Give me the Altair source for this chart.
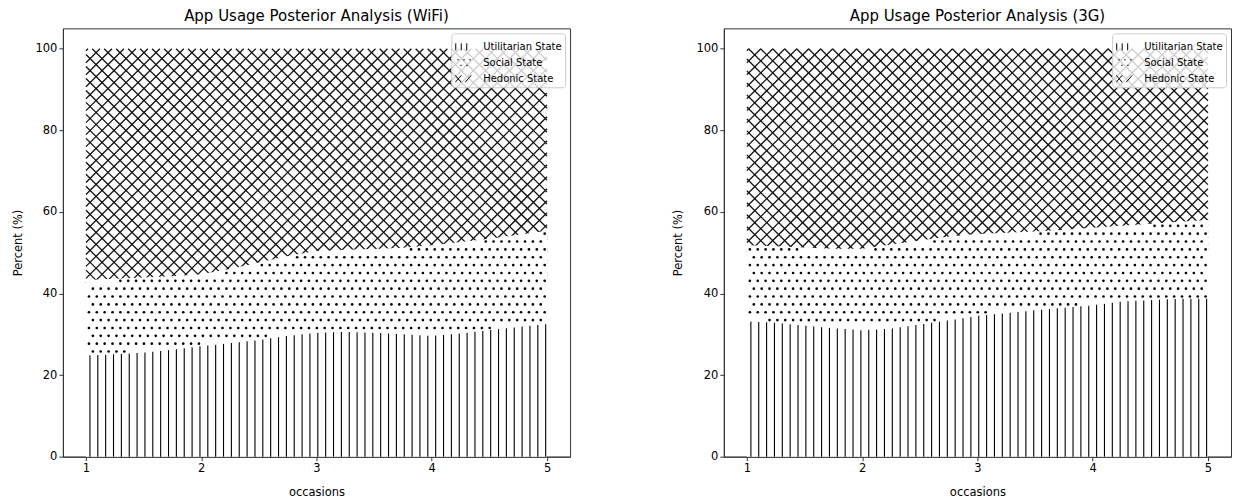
import altair as alt
import numpy as np
import pandas as pd

# ---------------- data ----------------
occasions = [1.0, 1.25, 1.5, 1.75, 2.0, 2.25, 2.5, 2.75, 3.0, 3.25, 3.5, 3.75, 4.0, 4.25, 4.5, 4.75, 5.0]

wifi_utilitarian = [24.8, 25.1, 25.5, 26.2, 27.1, 27.8, 28.6, 29.6, 30.4, 30.6, 30.4, 30.0, 29.6, 30.2, 31.0, 31.8, 32.5]
wifi_social = [18.5, 18.5, 18.4, 18.0, 17.6, 18.2, 19.0, 19.6, 20.0, 20.1, 20.5, 21.2, 22.2, 22.4, 22.4, 22.6, 22.9]
wifi_hedonic = [56.7, 56.4, 56.1, 55.8, 55.3, 54.0, 52.4, 50.8, 49.6, 49.3, 49.1, 48.8, 48.2, 47.4, 46.6, 45.6, 44.6]

g3_utilitarian = [33.2, 32.8, 32.1, 31.5, 31.0, 31.4, 32.4, 33.4, 34.5, 35.2, 35.9, 36.5, 37.1, 38.0, 38.4, 38.7, 38.7]
g3_social = [18.6, 18.8, 19.2, 19.5, 20.0, 20.6, 20.6, 20.6, 20.1, 19.7, 19.3, 19.1, 19.0, 18.6, 18.7, 18.9, 19.3]
g3_hedonic = [48.2, 48.4, 48.7, 49.0, 49.0, 48.0, 47.0, 46.0, 45.4, 45.1, 44.8, 44.4, 43.9, 43.4, 42.9, 42.4, 42.0]

states = ["Utilitarian State", "Social State", "Hedonic State"]
panel_titles = ["App Usage Posterior Analysis (WiFi)", "App Usage Posterior Analysis (3G)"]
x_ticks = [1, 2, 3, 4, 5]
y_ticks = [0, 20, 40, 60, 80, 100]

# ---------------- layout / style ----------------
W, H = 508, 429
XDOM = [0.8, 5.2]
YDOM = [0, 105]
PX_X = W / (XDOM[1] - XDOM[0])
PX_Y = H / (YDOM[1] - YDOM[0])
FONT = "DejaVu Sans"
INK = "#000000"

VLINE_STEP = 7.87   # px between vertical hatch lines
DIAG_STEP = 12.0    # px between diagonal hatch lines (horizontal)
DOT_STEP = 7.87     # px between dots

# legend swatches (custom symbol paths, unit box -1..1)
legend_paths = [
    "M-0.9,-0.35V0.35M-0.35,-0.35V0.35M0.2,-0.35V0.35",
    "M-0.75,-0.3h0.15M-0.15,-0.3h0.15M0.45,-0.3h0.15M-0.45,0.25h0.15M0.15,0.25h0.15",
    "M-0.95,-0.35L-0.35,0.35M-0.95,0.35L-0.35,-0.35M0.05,0.35L0.65,-0.35",
]


def panel(title, util, social, hedonic):
    util = np.array(util, dtype=float)
    cum = util + np.array(social, dtype=float)
    top = cum + np.array(hedonic, dtype=float)
    occ = np.array(occasions, dtype=float)
    x0, x1 = occ.min(), occ.max()
    df = pd.DataFrame({"occasion": occ, "util": util, "cum": cum, "top": top, "zero": 0.0})

    xs = alt.Scale(domain=XDOM, nice=False, zero=False)
    ys = alt.Scale(domain=YDOM, nice=False, zero=False)
    x_axis = alt.Axis(values=x_ticks, title="occasions", format="d")
    y_axis = alt.Axis(values=y_ticks, title="Percent (%)", format="d")

    Wb = (x1 - x0) * PX_X
    ytop = top.max()
    Hr = (ytop - cum.min() + 1.0) * PX_Y

    # hatch: vertical lines under the utilitarian curve
    vx = []
    k = 0
    while 4 + VLINE_STEP * k < Wb - 0.5:
        vx.append(x0 + (4 + VLINE_STEP * k) / PX_X)
        k += 1
    vx = np.array(vx)
    vlines = pd.DataFrame({"vx": vx, "v0": 0.0, "v1": np.interp(vx, occ, util)})

    # hatch: two diagonal families across the hedonic band
    segs = []
    s = 2.0
    while s < Wb + Hr:
        xa, xb = max(0.0, s - Hr), min(Wb, s)        # "/" lines: X + Y = s
        if xb > xa:
            segs.append((xa, s - xa, xb, s - xb))
        s += DIAG_STEP
    s = 2.0 - Hr
    while s < Wb:
        xa, xb = max(0.0, s), min(Wb, s + Hr)        # "\" lines: X - Y = s
        if xb > xa:
            segs.append((xa, xa - s, xb, xb - s))
        s += DIAG_STEP
    diag = pd.DataFrame(
        [
            {"dx1": x0 + a / PX_X, "dy1": ytop - b / PX_Y, "dx2": x0 + c / PX_X, "dy2": ytop - d / PX_Y}
            for a, b, c, d in segs
        ]
    )

    # hatch: staggered dots for the social band
    dx, dy = [], []
    nrows = int(105 * PX_Y / DOT_STEP) + 2
    ncols = int(Wb / DOT_STEP) + 3
    for j in range(nrows):
        ypx = 3 + j * DOT_STEP
        off = 3 + (DOT_STEP / 2 if j % 2 else 0)
        for i in range(ncols):
            xpx = off + i * DOT_STEP
            if xpx < 1 or xpx > Wb - 1:
                continue
            xv = x0 + xpx / PX_X
            yv = ypx / PX_Y
            lo = np.interp(xv, occ, util) + 2.2 / PX_Y
            hi = np.interp(xv, occ, cum) - 2.2 / PX_Y
            if lo < yv < hi:
                dx.append(xv)
                dy.append(yv)
    dots = pd.DataFrame({"dx": dx, "dy": dy})

    X = lambda f: alt.X(f, scale=xs, axis=x_axis)
    Y = lambda f: alt.Y(f, scale=ys, axis=y_axis)

    diag_layer = alt.Chart(diag).mark_rule(color="#111111", strokeWidth=1.3).encode(
        x=X("dx1:Q"), y=Y("dy1:Q"), x2="dx2:Q", y2="dy2:Q",
    )
    cover = alt.Chart(df).mark_area(color="white", opacity=1, strokeWidth=0).encode(
        x=X("occasion:Q"), y=Y("cum:Q"), y2=alt.Y2("zero:Q"),
    )
    dot_layer = alt.Chart(dots).mark_circle(size=7, color=INK, opacity=1).encode(
        x=X("dx:Q"), y=Y("dy:Q"),
    )
    vline_layer = alt.Chart(vlines).mark_rule(color=INK, strokeWidth=1.1).encode(
        x=X("vx:Q"), y=Y("v0:Q"), y2="v1:Q",
    )
    legend_layer = (
        alt.Chart(pd.DataFrame({"state": states}))
        .transform_filter("false")
        .mark_point(filled=False, opacity=1, color=INK, strokeWidth=1)
        .encode(
            shape=alt.Shape(
                "state:N",
                scale=alt.Scale(domain=states, range=legend_paths),
                legend=alt.Legend(
                    title=None, orient="top-right", offset=5, padding=3, rowPadding=0,
                    symbolSize=400, symbolStrokeColor=INK, symbolStrokeWidth=1,
                    symbolOpacity=1, labelFont=FONT, labelFontSize=10, labelColor=INK,
                    labelOffset=8, strokeColor="#cccccc", fillColor="rgba(255,255,255,0.8)",
                    cornerRadius=3,
                ),
            )
        )
    )
    return alt.layer(diag_layer, cover, dot_layer, vline_layer, legend_layer).properties(
        width=W, height=H,
        title=alt.TitleParams(text=title, fontSize=15, font=FONT, fontWeight="normal",
                              color=INK, anchor="middle", baseline="alphabetic", offset=-8),
    )


left = panel(panel_titles[0], wifi_utilitarian, wifi_social, wifi_hedonic)
right = panel(panel_titles[1], g3_utilitarian, g3_social, g3_hedonic)

chart = (
    alt.hconcat(left, right, spacing=101)
    .resolve_scale(shape="independent")
    .resolve_legend(shape="independent")
    .properties(padding={"left": 11, "top": 8, "right": 6, "bottom": 4}, background="white")
    .configure_view(stroke="#333333", strokeWidth=1)
    .configure_axis(
        grid=False, domainColor="#333333", tickColor="#333333", tickSize=4,
        labelFont=FONT, labelFontSize=11.5, labelColor=INK, labelPadding=2,
        titleFont=FONT, titleFontSize=11.5, titleFontWeight="normal", titleColor=INK,
    )
    .configure_axisY(titlePadding=12)
    .configure_axisX(titlePadding=12)
)

chart.save("out.html", embed_options={"renderer": "svg", "actions": False})
